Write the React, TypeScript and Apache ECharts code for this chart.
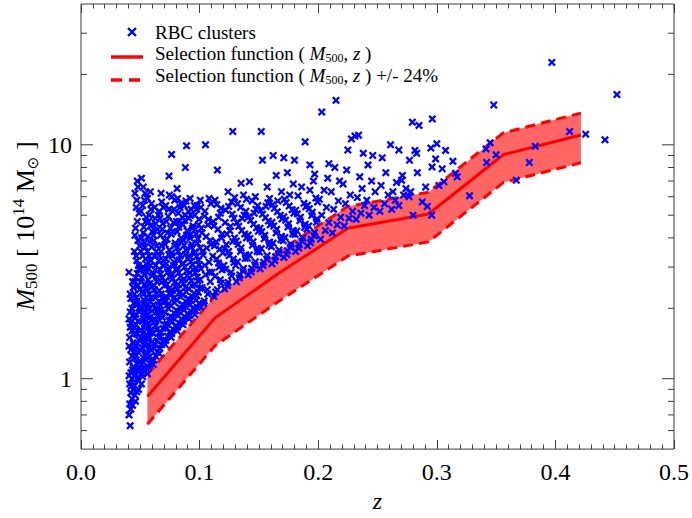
import React, { useEffect, useRef } from "react";
import * as echarts from "echarts";

// ---------------- data ----------------
const selZ = [0.056, 0.113, 0.168, 0.225, 0.293, 0.356, 0.4215];
const selM = [0.84, 1.82, 2.85, 4.4, 5.06, 9.07, 11.02];
const selScatter = 0.24;

const xTickLabels = ["0.0", "0.1", "0.2", "0.3", "0.4", "0.5"];
const yMajorTicks = [1, 10];
const yMinorTicks = [0.6, 0.7, 0.8, 0.9, 2, 3, 4, 5, 6, 7, 8, 9, 20, 30];

const clustersLowZ: [number, number][] = [
  [0.0415,0.63],[0.042,0.74],[0.041,0.78],[0.043,0.82],[0.042,0.87],[0.044,0.9],[0.041,0.95],[0.043,1.0],[0.042,1.06],[0.044,1.12],[0.041,1.18],[0.043,1.25],[0.042,1.33],[0.044,1.42],[0.041,1.5],[0.043,1.6],[0.042,1.72],[0.044,1.85],[0.043,2.0],[0.042,2.2],[0.044,2.45],
  [0.046,0.8],[0.047,0.88],[0.045,0.93],[0.048,0.98],[0.046,1.04],[0.049,1.1],[0.047,1.16],[0.045,1.22],[0.048,1.3],[0.046,1.38],[0.049,1.46],[0.047,1.55],[0.045,1.65],[0.048,1.76],[0.046,1.88],[0.049,2.0],[0.047,2.15],[0.045,2.3],[0.048,2.5],[0.046,2.7],[0.049,2.95],[0.047,3.2],[0.045,3.5],[0.048,3.9],[0.046,4.4],[0.049,5.1],[0.047,5.8],[0.048,6.6],
  [0.051,0.95],[0.052,1.02],[0.054,1.08],[0.051,1.15],[0.053,1.22],[0.055,1.28],[0.052,1.35],[0.054,1.43],[0.051,1.5],[0.053,1.58],[0.055,1.67],[0.052,1.76],[0.054,1.86],[0.051,1.97],[0.053,2.1],[0.055,2.22],[0.052,2.36],[0.054,2.52],[0.051,2.7],[0.053,2.9],[0.055,3.1],[0.052,3.35],[0.054,3.65],[0.051,4.0],[0.053,4.45],[0.055,4.9],[0.052,5.5],[0.054,6.2],[0.051,7.2],
  [0.056,1.05],[0.057,1.12],[0.059,1.2],[0.056,1.28],[0.058,1.36],[0.060,1.44],[0.057,1.52],[0.059,1.62],[0.056,1.72],[0.058,1.83],[0.060,1.95],[0.057,2.08],[0.059,2.22],[0.056,2.38],[0.058,2.55],[0.060,2.75],[0.057,2.95],[0.059,3.2],[0.056,3.5],[0.058,3.85],[0.060,4.25],[0.057,4.7],[0.059,5.3],[0.056,5.9],
];

const clustersLowZFill: [number, number][] = [
  [0.0405,0.7],[0.0435,0.77],[0.0425,0.93],[0.0405,1.03],[0.0435,1.09],[0.0445,1.3],[0.0405,1.38],[0.0445,1.55],[0.0415,1.66],[0.0405,1.8],[0.0415,1.93],[0.0445,2.1],[0.0415,2.3],[0.0435,2.6],[0.0405,2.85],
  [0.0455,0.85],[0.0485,0.9],[0.0475,1.0],[0.0455,1.08],[0.0495,1.19],[0.0465,1.26],[0.0455,1.34],[0.0475,1.42],[0.0495,1.6],[0.0465,1.7],[0.0455,1.82],[0.0495,1.93],[0.0475,2.07],[0.0465,2.22],[0.0495,2.4],[0.0455,2.6],[0.0475,2.82],[0.0485,3.05],[0.0465,3.35],[0.0495,3.7],[0.0455,4.1],[0.0475,4.7],[0.0465,5.4],[0.0455,6.2],[0.0475,7.0],
  [0.0505,1.05],[0.0535,1.12],[0.0525,1.18],[0.0545,1.25],[0.0505,1.32],[0.0535,1.39],[0.0525,1.47],[0.0545,1.54],[0.0505,1.62],[0.0535,1.72],[0.0525,1.81],[0.0545,1.92],[0.0505,2.04],[0.0535,2.16],[0.0525,2.3],[0.0545,2.44],[0.0505,2.6],[0.0535,2.8],[0.0525,3.0],[0.0545,3.25],[0.0505,3.5],[0.0535,3.8],[0.0525,4.2],[0.0545,4.7],[0.0505,5.2],[0.0535,5.8],[0.0525,6.6],
  [0.0555,1.1],[0.0585,1.16],[0.0575,1.24],[0.0595,1.32],[0.0565,1.4],[0.0555,1.48],[0.0585,1.57],[0.0575,1.67],[0.0595,1.77],[0.0565,1.89],[0.0555,2.0],[0.0585,2.14],[0.0575,2.3],[0.0595,2.46],[0.0565,2.65],[0.0555,2.85],[0.0585,3.05],[0.0575,3.35],[0.0595,3.65],[0.0565,4.05],[0.0585,4.5],[0.0575,5.0],[0.0595,5.6],[0.0585,6.3],
];

const clustersMidLowZ: [number, number][] = [
  [0.061,1.15],[0.063,1.25],[0.062,1.35],[0.064,1.45],[0.061,1.56],[0.063,1.68],[0.062,1.8],[0.064,1.93],[0.061,2.07],[0.063,2.22],[0.062,2.4],[0.064,2.6],[0.061,2.8],[0.063,3.05],[0.062,3.35],[0.064,3.7],[0.061,4.1],[0.063,4.6],[0.062,5.4],
  [0.066,1.28],[0.068,1.4],[0.067,1.52],[0.069,1.64],[0.066,1.77],[0.068,1.9],[0.067,2.05],[0.069,2.2],[0.066,2.38],[0.068,2.58],[0.067,2.8],[0.069,3.05],[0.066,3.35],[0.068,3.7],[0.067,4.1],[0.069,4.6],[0.066,5.2],[0.068,5.7],
  [0.071,1.4],[0.073,1.52],[0.072,1.65],[0.074,1.78],[0.071,1.92],[0.073,2.07],[0.072,2.24],[0.074,2.42],[0.071,2.62],[0.073,2.85],[0.072,3.1],[0.074,3.4],[0.071,3.75],[0.073,4.2],[0.072,4.7],[0.074,5.3],[0.0742,7.35],
  [0.076,1.5],[0.078,1.62],[0.077,1.75],[0.079,1.9],[0.076,2.05],[0.078,2.2],[0.077,2.38],[0.079,2.58],[0.076,2.8],[0.078,3.05],[0.077,3.35],[0.079,3.7],[0.076,4.15],[0.078,4.65],[0.077,5.2],[0.0764,9.1],[0.079,5.8],
  [0.081,1.6],[0.083,1.72],[0.082,1.86],[0.084,2.0],[0.081,2.16],[0.083,2.33],[0.082,2.52],[0.084,2.73],[0.081,2.96],[0.083,3.22],[0.082,3.5],[0.084,3.85],[0.081,4.25],[0.083,4.7],[0.082,5.1],[0.084,5.6],[0.081,6.5],
  [0.086,1.7],[0.088,1.83],[0.087,1.97],[0.089,2.12],[0.086,2.28],[0.088,2.46],[0.087,2.66],[0.089,2.88],[0.086,3.12],[0.088,3.4],[0.087,3.72],[0.089,4.1],[0.086,4.55],[0.088,5.0],[0.087,5.5],[0.088,8.0],[0.089,9.9],
  [0.091,1.8],[0.093,1.94],[0.092,2.08],[0.094,2.24],[0.091,2.42],[0.093,2.62],[0.092,2.84],[0.094,3.08],[0.091,3.35],[0.093,3.65],[0.092,4.0],[0.094,4.4],[0.091,4.85],[0.093,5.3],[0.092,5.9],
  [0.096,1.88],[0.098,2.02],[0.097,2.17],[0.099,2.34],[0.096,2.52],[0.098,2.72],[0.097,2.95],[0.099,3.2],[0.096,3.48],[0.098,3.8],[0.097,4.15],[0.099,4.55],[0.096,5.0],[0.098,5.5],[0.105,10.0],
];

const clustersMidLowZFill: [number, number][] = [
  [0.0615,1.2],[0.0645,1.3],[0.0625,1.4],[0.0655,1.5],[0.0635,1.62],[0.0615,1.74],[0.0645,1.86],[0.0625,2.0],[0.0655,2.14],[0.0635,2.3],[0.0615,2.5],[0.0645,2.7],[0.0625,2.92],[0.0655,3.2],[0.0635,3.5],[0.0615,3.9],[0.0645,4.35],[0.0625,4.85],[0.0655,5.0],
  [0.0665,1.35],[0.0695,1.46],[0.0675,1.58],[0.0705,1.7],[0.0685,1.83],[0.0665,1.97],[0.0695,2.12],[0.0675,2.3],[0.0705,2.5],[0.0685,2.7],[0.0665,2.92],[0.0695,3.2],[0.0675,3.5],[0.0705,3.9],[0.0685,4.35],[0.0665,4.85],[0.0695,5.4],[0.0675,6.2],
  [0.0715,1.46],[0.0745,1.58],[0.0725,1.71],[0.0755,1.85],[0.0735,2.0],[0.0715,2.15],[0.0745,2.32],[0.0725,2.52],[0.0755,2.72],[0.0735,2.95],[0.0715,3.25],[0.0745,3.55],[0.0725,3.95],[0.0755,4.4],[0.0735,4.95],[0.0715,5.5],[0.0745,6.1],
  [0.0765,1.56],[0.0795,1.68],[0.0775,1.82],[0.0805,1.96],[0.0785,2.12],[0.0765,2.3],[0.0795,2.48],[0.0775,2.68],[0.0805,2.9],[0.0785,3.15],[0.0765,3.45],[0.0795,3.8],[0.0775,4.25],[0.0805,4.7],[0.0785,5.3],[0.0765,6.0],
  [0.0815,1.66],[0.0845,1.8],[0.0825,1.94],[0.0855,2.08],[0.0835,2.25],[0.0815,2.42],[0.0845,2.62],[0.0825,2.84],[0.0855,3.08],[0.0835,3.35],[0.0815,3.65],[0.0845,4.0],[0.0825,4.45],[0.0855,4.9],[0.0835,5.4],[0.0815,5.9],
  [0.0865,1.76],[0.0895,1.9],[0.0875,2.04],[0.0905,2.2],[0.0885,2.36],[0.0865,2.55],[0.0895,2.76],[0.0875,3.0],[0.0905,3.25],[0.0885,3.55],[0.0865,3.9],[0.0895,4.3],[0.0875,4.75],[0.0905,5.2],[0.0885,5.75],
  [0.0915,1.86],[0.0945,2.0],[0.0925,2.16],[0.0955,2.32],[0.0935,2.5],[0.0915,2.7],[0.0945,2.92],[0.0925,3.16],[0.0955,3.42],[0.0935,3.75],[0.0915,4.1],[0.0945,4.5],[0.0925,5.0],[0.0955,5.5],
  [0.0965,1.95],[0.0995,2.1],[0.0975,2.26],[0.1005,2.44],[0.0985,2.62],[0.0965,2.84],[0.0995,3.08],[0.0975,3.34],[0.1005,3.62],[0.0985,3.95],[0.0965,4.35],[0.0995,4.8],[0.0975,5.3],[0.1005,5.8],
];

const clustersMidZ: [number, number][] = [
  [0.101,2.02],[0.104,2.15],[0.107,2.3],[0.102,2.45],[0.109,2.6],[0.105,2.78],[0.101,2.95],[0.108,3.15],[0.103,3.38],[0.106,3.62],[0.109,3.9],[0.102,4.2],[0.107,4.55],[0.104,4.95],[0.101,5.4],[0.108,5.9],
  [0.112,2.25],[0.115,2.4],[0.118,2.56],[0.113,2.74],[0.119,2.92],[0.116,3.12],[0.111,3.34],[0.117,3.58],[0.114,3.85],[0.119,4.15],[0.112,4.5],[0.116,4.9],[0.118,5.35],[0.113,5.8],[0.115,7.8],
  [0.121,2.42],[0.124,2.58],[0.127,2.75],[0.122,2.94],[0.129,3.14],[0.125,3.36],[0.121,3.6],[0.128,3.86],[0.123,4.15],[0.126,4.48],[0.129,4.85],[0.122,5.25],[0.127,5.7],[0.124,6.3],[0.128,11.4],
  [0.131,2.6],[0.134,2.78],[0.137,2.96],[0.132,3.16],[0.139,3.38],[0.135,3.62],[0.131,3.88],[0.138,4.16],[0.133,4.48],[0.136,4.84],[0.139,5.2],[0.132,5.6],[0.135,6.85],[0.137,6.1],
  [0.141,2.78],[0.144,2.96],[0.147,3.16],[0.142,3.38],[0.149,3.6],[0.145,3.85],[0.141,4.12],[0.148,4.42],[0.143,4.75],[0.146,5.1],[0.149,5.5],[0.142,6.95],[0.147,6.0],
  [0.151,2.95],[0.154,3.15],[0.157,3.36],[0.152,3.6],[0.159,3.84],[0.155,4.1],[0.151,4.4],[0.158,4.72],[0.153,5.05],[0.156,5.45],[0.159,5.9],[0.153,8.6],[0.152,11.4],[0.157,6.6],
  [0.161,3.1],[0.164,3.32],[0.167,3.55],[0.162,3.8],[0.169,4.06],[0.165,4.35],[0.161,4.66],[0.168,5.0],[0.163,5.35],[0.166,5.75],[0.162,9.0],[0.1646,7.4],[0.169,6.3],
  [0.171,3.3],[0.174,3.52],[0.177,3.76],[0.172,4.02],[0.179,4.3],[0.175,4.6],[0.171,4.92],[0.178,5.28],[0.173,5.66],[0.176,6.1],[0.171,8.8],[0.179,6.8],[0.174,7.6],
  [0.181,3.5],[0.184,3.74],[0.187,4.0],[0.182,4.28],[0.189,4.58],[0.185,4.9],[0.181,5.25],[0.188,5.62],[0.183,6.05],[0.180,8.6],[0.186,6.6],[0.189,10.3],
  [0.191,3.7],[0.194,3.95],[0.197,4.22],[0.192,4.5],[0.199,4.82],[0.195,5.15],[0.191,5.52],[0.198,5.92],[0.193,6.4],[0.197,7.5],[0.196,7.0],[0.193,8.2],
];

const clustersMidZFill: [number, number][] = [
  [0.1035,2.1],[0.1065,2.4],[0.1005,2.65],[0.1085,2.85],[0.1045,3.05],[0.1025,3.5],[0.1095,3.75],[0.1055,4.05],[0.1015,4.4],[0.1075,4.8],[0.1045,5.2],[0.1095,5.6],
  [0.1135,2.35],[0.1175,2.65],[0.1105,2.85],[0.1165,3.0],[0.1145,3.25],[0.1195,3.45],[0.1125,3.7],[0.1185,4.0],[0.1155,4.35],[0.1115,4.7],[0.1175,5.1],[0.1145,5.55],
  [0.1235,2.5],[0.1265,2.85],[0.1205,3.05],[0.1285,3.25],[0.1245,3.5],[0.1225,3.75],[0.1295,4.0],[0.1255,4.3],[0.1215,4.65],[0.1275,5.05],[0.1245,5.45],[0.1295,5.95],
  [0.1335,2.7],[0.1365,2.88],[0.1305,3.05],[0.1385,3.27],[0.1345,3.5],[0.1325,3.75],[0.1395,4.0],[0.1355,4.3],[0.1315,4.65],[0.1375,5.0],[0.1345,5.4],[0.1395,5.85],
  [0.1435,2.86],[0.1465,3.06],[0.1405,3.27],[0.1485,3.5],[0.1445,3.72],[0.1425,3.98],[0.1495,4.27],[0.1455,4.58],[0.1415,4.92],[0.1475,5.3],[0.1445,5.75],
  [0.1535,3.05],[0.1565,3.25],[0.1505,3.48],[0.1585,3.72],[0.1545,3.97],[0.1525,4.25],[0.1595,4.55],[0.1555,4.88],[0.1515,5.25],[0.1575,5.65],
  [0.1635,3.2],[0.1665,3.43],[0.1605,3.67],[0.1685,3.93],[0.1645,4.2],[0.1625,4.5],[0.1695,4.82],[0.1655,5.17],[0.1615,5.55],
  [0.1735,3.4],[0.1765,3.64],[0.1705,3.89],[0.1785,4.16],[0.1745,4.45],[0.1725,4.76],[0.1795,5.1],[0.1755,5.47],[0.1715,5.85],
  [0.1835,3.62],[0.1865,3.87],[0.1805,4.14],[0.1885,4.43],[0.1845,4.74],[0.1825,5.07],[0.1895,5.43],
  [0.1935,3.82],[0.1965,4.08],[0.1905,4.36],[0.1985,4.66],[0.1945,4.98],[0.1925,5.33],[0.1995,5.7],
];

const clustersHighZ: [number, number][] = [
  [0.202,3.95],[0.206,4.3],[0.209,4.65],[0.203,5.0],[0.207,5.4],[0.201,5.85],[0.205,6.4],[0.208,7.2],[0.203,13.8],[0.209,8.3],
  [0.212,4.2],[0.216,4.55],[0.219,4.9],[0.213,5.3],[0.217,5.75],[0.211,6.3],[0.215,15.5],[0.218,7.0],[0.214,8.0],
  [0.222,4.5],[0.226,4.85],[0.229,5.2],[0.223,5.6],[0.227,6.1],[0.221,6.8],[0.225,9.5],[0.228,10.6],[0.224,7.8],
  [0.232,4.8],[0.236,5.1],[0.239,5.5],[0.233,5.95],[0.237,6.5],[0.231,10.9],[0.235,7.3],[0.238,9.2],[0.234,11.0],
  [0.243,5.0],[0.247,5.4],[0.241,5.8],[0.248,6.3],[0.245,7.0],[0.242,8.2],[0.246,9.0],
  [0.252,5.2],[0.256,5.6],[0.259,6.1],[0.253,6.7],[0.257,7.6],[0.254,8.8],
  [0.262,5.3],[0.265,5.8],[0.268,5.5],[0.263,6.3],[0.266,6.9],[0.2704,7.05],[0.268,9.5],[0.261,10.0],
  [0.272,6.1],[0.2766,6.0],[0.274,6.5],[0.278,6.3],[0.271,7.4],[0.2794,12.5],[0.2816,9.46],[0.283,9.2],[0.277,8.6],
  [0.280,5.0],[0.2836,7.6],[0.285,12.1],[0.2878,5.7],[0.2906,6.6],[0.292,5.45],[0.2957,5.0],[0.296,8.04],[0.2962,12.9],[0.295,9.68],[0.299,8.7],
];

const clustersVeryHighZ: [number, number][] = [
  [0.300,10.1],[0.3018,6.7],[0.3046,7.9],[0.306,6.95],[0.3074,9.46],[0.3136,8.5],[0.3158,7.55],[0.3172,7.3],[0.3276,6.05],
  [0.3415,9.6],[0.342,8.4],[0.345,10.2],[0.348,14.8],[0.350,9.06],[0.367,7.06],[0.378,8.4],[0.383,9.85],[0.397,22.5],
  [0.412,11.4],[0.4255,11.1],[0.4418,10.5],[0.4519,16.4],
];

// ---------------- styling ----------------
const FONT = "'Liberation Serif', 'Times New Roman', serif";
const AXIS = "#3a3a3a";
const X_MIN = 0, X_MAX = 0.5, Y_MIN = 0.5, Y_MAX = 40;
const XMARK = "path://M0,2L2,0L5,3L8,0L10,2L7,5L10,8L8,10L5,7L2,10L0,8L3,5Z";

export default function App() {
  const ref = useRef<HTMLDivElement>(null);
  useEffect(() => {
    if (!ref.current) return;
    const chart = echarts.init(ref.current, null, { renderer: "svg" });
    const clusters = [
      ...clustersLowZ, ...clustersLowZFill, ...clustersMidLowZ, ...clustersMidLowZFill,
      ...clustersMidZ, ...clustersMidZFill, ...clustersHighZ, ...clustersVeryHighZ,
    ];
    const solid = selZ.map((z, i) => [z, selM[i]]);
    const upper = selZ.map((z, i) => [z, selM[i] * (1 + selScatter)]);
    const lower = selZ.map((z, i) => [z, selM[i] * (1 - selScatter)]);
    const yTicks = [...yMajorTicks, ...yMinorTicks];

    const xAxisBase = {
      type: "value",
      min: X_MIN,
      max: X_MAX,
      interval: 0.1,
      axisLine: { show: false },
      axisTick: { show: true, inside: true, length: 9, lineStyle: { color: AXIS, width: 1 } },
      minorTick: { show: true, splitNumber: 10, length: 4.5, lineStyle: { color: AXIS, width: 1 } },
      splitLine: { show: false },
      minorSplitLine: { show: false },
    };

    const richMain = { fontFamily: FONT, fontSize: 19, color: "#000", lineHeight: 22 };
    const legendRich = {
      i: { fontFamily: FONT, fontSize: 19, fontStyle: "italic", color: "#000", lineHeight: 22 },
      sub: { fontFamily: FONT, fontSize: 12, color: "#000", lineHeight: 10, verticalAlign: "bottom" },
    };

    chart.setOption({
      animation: false,
      backgroundColor: "#fff",
      grid: { left: 81, right: 16, top: 4, bottom: 66, show: true, borderColor: AXIS, borderWidth: 1, backgroundColor: "transparent" },
      xAxis: [
        {
          ...xAxisBase,
          position: "bottom",
          axisLabel: {
            margin: 11,
            fontFamily: FONT,
            fontSize: 24,
            color: "#000",
            formatter: (v: number) => xTickLabels[Math.round(v * 10)] ?? "",
          },
          name: "z",
          nameLocation: "middle",
          nameGap: 38,
          nameTextStyle: { fontFamily: FONT, fontSize: 24, fontStyle: "italic", color: "#000" },
        },
        { ...xAxisBase, position: "top", axisLabel: { show: false } },
      ],
      yAxis: [
        {
          type: "log",
          logBase: 10,
          min: Y_MIN,
          max: Y_MAX,
          axisLine: { show: false },
          axisTick: { show: false },
          splitLine: { show: false },
          axisLabel: {
            margin: 9,
            fontFamily: FONT,
            fontSize: 24,
            color: "#000",
            showMinLabel: false,
            showMaxLabel: false,
            formatter: (v: number) => {
              const m = yMajorTicks.find((t) => Math.abs(v - t) < 1e-6 * t);
              return m !== undefined ? String(m) : "";
            },
          },
        },
      ],
      series: [
        {
          type: "custom",
          name: "band",
          silent: true,
          z: 1,
          data: [[selZ[0], selM[0]]],
          renderItem: (params: any, api: any) => {
            const pts = [
              ...upper.map((p) => api.coord(p)),
              ...lower.slice().reverse().map((p) => api.coord(p)),
            ];
            return { type: "polygon", shape: { points: pts }, style: { fill: "rgb(255,102,102)", stroke: "none" } };
          },
        },
        { type: "line", name: "selection", data: solid, symbol: "none", z: 2, lineStyle: { color: "#ff0000", width: 3 } },
        { type: "line", name: "upper", data: upper, symbol: "none", z: 2, lineStyle: { color: "#ff0000", width: 3, type: [10, 6] } },
        { type: "line", name: "lower", data: lower, symbol: "none", z: 2, lineStyle: { color: "#ff0000", width: 3, type: [10, 6] } },
        {
          type: "scatter",
          name: "RBC clusters",
          data: clusters,
          symbol: XMARK,
          symbolSize: 8,
          z: 3,
          itemStyle: { color: "#0000ff", opacity: 1 },
        },
        {
          type: "custom",
          name: "yticks",
          silent: true,
          clip: false,
          z: 4,
          data: yTicks.map((v) => [X_MIN, v]),
          encode: { x: 0, y: 1 },
          renderItem: (params: any, api: any) => {
            const v = yTicks[params.dataIndex];
            const len = yMajorTicks.includes(v) ? 12 : 6;
            const l = api.coord([X_MIN, v]);
            const r = api.coord([X_MAX, v]);
            const st = { stroke: AXIS, lineWidth: 1 };
            return {
              type: "group",
              children: [
                { type: "line", shape: { x1: l[0], y1: l[1], x2: l[0] + len, y2: l[1] }, style: st },
                { type: "line", shape: { x1: r[0] - len, y1: r[1], x2: r[0], y2: r[1] }, style: st },
              ],
            };
          },
        },
      ],
      graphic: [
        {
          type: "text",
          x: 25,
          y: 226,
          rotation: Math.PI / 2,
          style: {
            text: "{i|M}{sub|500} [ 10{sup|14} M{sun|⊙} ]",
            fontFamily: FONT,
            fontSize: 26,
            lineHeight: 30,
            fill: "#000",
            align: "center",
            verticalAlign: "middle",
            rich: {
              i: { fontFamily: FONT, fontSize: 26, fontStyle: "italic", fill: "#000", lineHeight: 30 },
              sub: { fontFamily: FONT, fontSize: 17, fill: "#000", lineHeight: 13, verticalAlign: "bottom" },
              sup: { fontFamily: FONT, fontSize: 17, fill: "#000", lineHeight: 13, verticalAlign: "top" },
              sun: { fontFamily: "DejaVu Sans", fontSize: 15, fill: "#000", lineHeight: 15, verticalAlign: "bottom" },
            },
          },
        },
        { type: "line", shape: { x1: 128, y1: 28, x2: 136, y2: 36 }, style: { stroke: "#0000ff", lineWidth: 2.3 } },
        { type: "line", shape: { x1: 128, y1: 36, x2: 136, y2: 28 }, style: { stroke: "#0000ff", lineWidth: 2.3 } },
        { type: "text", x: 155, y: 32, style: { text: "RBC clusters", ...richMain, verticalAlign: "middle" } },
        { type: "line", shape: { x1: 111, y1: 57, x2: 143, y2: 57 }, style: { stroke: "#ff0000", lineWidth: 3.5 } },
        {
          type: "text",
          x: 155,
          y: 53,
          style: { text: "Selection function ( {i|M}{sub|500}, {i|z} )", ...richMain, rich: legendRich, verticalAlign: "middle" },
        },
        { type: "line", shape: { x1: 111, y1: 80, x2: 143, y2: 80 }, style: { stroke: "#ff0000", lineWidth: 3.5, lineDash: [11, 7] } },
        {
          type: "text",
          x: 155,
          y: 75,
          style: { text: "Selection function ( {i|M}{sub|500}, {i|z} ) +/- 24%", ...richMain, rich: legendRich, verticalAlign: "middle" },
        },
      ],
    });
    return () => chart.dispose();
  }, []);
  return <div ref={ref} style={{ position: "fixed", left: 0, top: 0, width: 692, height: 518 }} />;
}
